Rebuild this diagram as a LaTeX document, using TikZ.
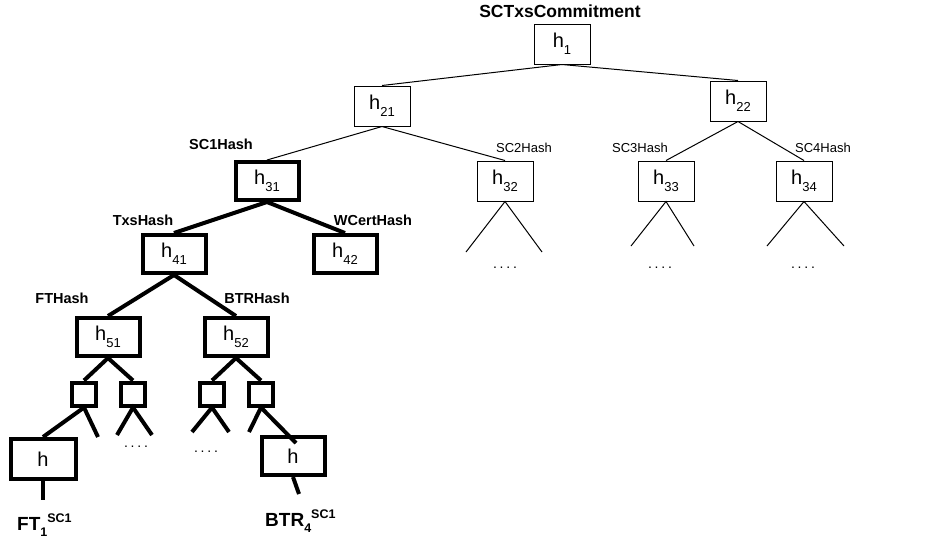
\documentclass[tikz,border=0pt]{standalone}
\usepackage{fontspec}
\setmainfont{Liberation Sans}
\usepackage{tikz}
\usetikzlibrary{calc}

\newcommand{\hsub}[1]{h\raisebox{-7pt}{\fontsize{13}{13}\selectfont #1}}
\newcommand{\dotrow}{.\kern2.8pt.\kern2.8pt.\kern2.8pt.}

\begin{document}
\begin{tikzpicture}[x=1pt, y=-1pt,
    box/.style={draw, line width=1pt, minimum width=56pt, minimum height=40pt, inner sep=0pt, font=\fontsize{20}{20}\selectfont},
    thickbox/.style={draw, line width=4pt, minimum width=63pt, minimum height=38pt, inner sep=0pt, font=\fontsize{20}{20}\selectfont},
    leafbox/.style={thickbox, minimum width=65pt, minimum height=40pt},
    smallbox/.style={draw, line width=4pt, minimum width=24pt, minimum height=23pt, inner sep=0pt},
    hashlbl/.style={font=\fontsize{14.5}{14.5}\selectfont\bfseries, inner sep=0pt},
    thinlbl/.style={font=\fontsize{13}{13}\selectfont, inner sep=0pt},
    dots/.style={font=\fontsize{14}{14}\selectfont, inner sep=0pt, anchor=base},
    thin edge/.style={line width=1pt},
    thick edge/.style={line width=4pt}]
\useasboundingbox (0,0) rectangle (935,542);
%\draw[thin, opacity=0.5] (0,0) grid[step=50] (935,542);

%%% boxes

% root
\node[box] (h1) at (562,44) {\hsub{1}};
\node[font=\fontsize{17.5}{17.5}\selectfont\bfseries, inner sep=0pt] (title) at (560,11) {SCTxsCommitment};

% level 2
\node[box] (h21) at (382,106) {\hsub{21}};
\node[box] (h22) at (738,101) {\hsub{22}};

% level 3
\node[thickbox] (h31) at (267,181) {\hsub{31}};
\node[box] (h32) at (505,181) {\hsub{32}};
\node[box] (h33) at (666,181) {\hsub{33}};
\node[box] (h34) at (804,181) {\hsub{34}};
\node[hashlbl] (sc1) at (221,144) {SC1Hash};
\node[thinlbl] (sc2) at (524,148) {SC2Hash};
\node[thinlbl] (sc3) at (640,148) {SC3Hash};
\node[thinlbl] (sc4) at (823,148) {SC4Hash};

% level 4
\node[thickbox] (h41) at (174,254) {\hsub{41}};
\node[thickbox] (h42) at (345,254) {\hsub{42}};
\node[hashlbl] (txs) at (143,220) {TxsHash};
\node[hashlbl] (wcert) at (373,220) {WCertHash};

% level 5
\node[thickbox] (h51) at (108,337) {\hsub{51}};
\node[thickbox] (h52) at (236,337) {\hsub{52}};
\node[hashlbl] (ft) at (62,298) {FTHash};
\node[hashlbl] (btr) at (257,298) {BTRHash};

% small boxes
\node[smallbox] (s1) at (84,394) {};
\node[smallbox] (s2) at (133,394) {};
\node[smallbox] (s3) at (212,394) {};
\node[smallbox] (s4) at (261,394) {};

% leaves
\node[leafbox] (leafA) at (43,459) {h};
\node[leafbox, minimum width=63pt, minimum height=38pt] (leafB) at (293,456) {h};
\node[font=\fontsize{19}{19}\selectfont\bfseries, inner sep=0pt, anchor=base west] (ftleaf) at (17,530) {FT\raisebox{-6pt}{\fontsize{12.5}{12.5}\selectfont 1}\raisebox{8pt}{\fontsize{12.5}{12.5}\selectfont SC1}};
\node[font=\fontsize{19}{19}\selectfont\bfseries, inner sep=0pt, anchor=base west] (btrleaf) at (265,526) {BTR\raisebox{-6pt}{\fontsize{12.5}{12.5}\selectfont 4}\raisebox{8pt}{\fontsize{12.5}{12.5}\selectfont SC1}};

% dots
\node[dots] (d1) at (136,447) {\dotrow};
\node[dots] (d2) at (206,452) {\dotrow};
\node[dots] (d3) at (505,268) {\dotrow};
\node[dots] (d4) at (660,268) {\dotrow};
\node[dots] (d5) at (803,268) {\dotrow};

%%% free ends
\coordinate (e32a) at (466,252);
\coordinate (e32b) at (542,252);
\coordinate (e33a) at (631,246);
\coordinate (e33b) at (694,246);
\coordinate (e34a) at (767,246);
\coordinate (e34b) at (844,246);
\coordinate (e1b) at (98,437);
\coordinate (e2a) at (117,435);
\coordinate (e2b) at (152,435);
\coordinate (e3a) at (192,432);
\coordinate (e3b) at (229,432);
\coordinate (e4a) at (249,432);
\coordinate (e4b) at (296,443);
\coordinate (endA) at (43,500);
\coordinate (endB) at (299,494);

%%% links

% thin
\draw[thin edge] (h1.south) -- (h21.north);
\draw[thin edge] (h1.south) -- (h22.north);
\draw[thin edge] (h21.south) -- (h31.north);
\draw[thin edge] (h21.south) -- (h32.north);
\draw[thin edge] (h22.south) -- (h33.north);
\draw[thin edge] (h22.south) -- (h34.north);
\draw[thin edge] (e32a) -- (h32.south) -- (e32b);
\draw[thin edge] (e33a) -- (h33.south) -- (e33b);
\draw[thin edge] (e34a) -- (h34.south) -- (e34b);

% thick
\draw[thick edge] (h31.south) -- (h41.north);
\draw[thick edge] (h31.south) -- (h42.north);
\draw[thick edge] (h41.south) -- (h51.north);
\draw[thick edge] (h41.south) -- (h52.north);
\draw[thick edge] (h51.south) -- (s1.north);
\draw[thick edge] (h51.south) -- (s2.north);
\draw[thick edge] (h52.south) -- (s3.north);
\draw[thick edge] (h52.south) -- (s4.north);
\draw[thick edge] (leafA.north) -- (s1.south) -- (e1b);
\draw[thick edge] (e2a) -- (s2.south) -- (e2b);
\draw[thick edge] (e3a) -- (s3.south) -- (e3b);
\draw[thick edge] (e4a) -- (s4.south) -- (e4b);
\draw[thick edge] (leafA.south) -- (endA);
\draw[thick edge] (leafB.south) -- (endB);

\end{tikzpicture}
\end{document}
